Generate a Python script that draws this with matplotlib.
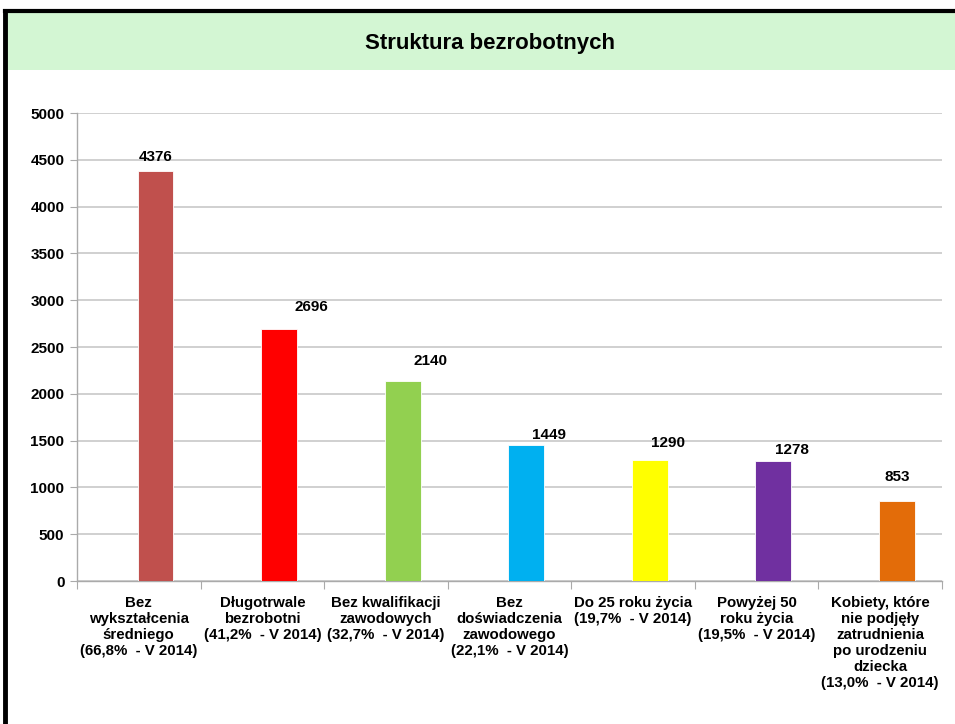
import numpy as np
import matplotlib
matplotlib.use("Agg")
import matplotlib.pyplot as plt
from matplotlib.patches import Rectangle
from matplotlib.lines import Line2D

plt.rcParams['font.family'] = ['Liberation Sans', 'DejaVu Sans']
plt.rcParams['font.weight'] = 'bold'

categories = [
    "Bez\nwykształcenia\nśredniego\n(66,8%  - V 2014)",
    "Długotrwale\nbezrobotni\n(41,2%  - V 2014)",
    "Bez kwalifikacji\nzawodowych\n(32,7%  - V 2014)",
    "Bez\ndoświadczenia\nzawodowego\n(22,1%  - V 2014)",
    "Do 25 roku życia\n(19,7%  - V 2014)",
    "Powyżej 50\nroku życia\n(19,5%  - V 2014)",
    "Kobiety, które\nnie podjęły\nzatrudnienia\npo urodzeniu\ndziecka\n(13,0%  - V 2014)",
]
values = [4376, 2696, 2140, 1449, 1290, 1278, 853]
colors = ["#c0504d", "#ff0000", "#92d050", "#00b0f0", "#ffff00", "#7030a0", "#e36c09"]

# label nudges in pixels (labels were moved by hand in the original)
label_dx = [0, 32, 28, 23, 18, 19, 0]
label_dy = [14, 22, 20, 10, 17, 11, 24]

fig = plt.figure(figsize=(9.55, 7.24), dpi=100)

# title band and frame
fig.patches.append(Rectangle((0.007, 0.903), 0.993, 0.080, transform=fig.transFigure,
                             facecolor="#d3f6d3", edgecolor="none", zorder=0))
fig.lines.append(Line2D([0.005, 1.0], [0.985, 0.985], transform=fig.transFigure,
                        color="black", linewidth=3))
fig.lines.append(Line2D([0.005, 0.005], [0.0, 0.985], transform=fig.transFigure,
                        color="black", linewidth=3.5))
fig.text(0.513, 0.940, "Struktura bezrobotnych", ha="center", va="center",
         fontsize=16, fontweight="bold")

ax = fig.add_axes([0.0806, 0.1975, 0.9058, 0.6464])
x = np.arange(len(values))
offset = 0.135
bars = ax.bar(x + offset, values, width=0.29, color=colors, edgecolor="white",
              linewidth=0.6, zorder=3)

for i, (b, v) in enumerate(zip(bars, values)):
    ax.annotate(str(v), (b.get_x() + b.get_width() / 2, v),
                xytext=(label_dx[i] * 0.72, label_dy[i] * 0.72), textcoords="offset points",
                ha="center", va="center", fontsize=11, fontweight="bold")

ax.set_xlim(-0.5, len(values) - 0.5)
ax.set_ylim(0, 5000)
ax.set_yticks(np.arange(0, 5001, 500))
ax.yaxis.grid(True, color="#c8c8c8", linewidth=1.2, zorder=0)
ax.set_axisbelow(True)
ax.tick_params(axis="y", labelsize=11, length=5, color="#aaaaaa", pad=4)

ax.set_xticks(np.arange(-0.5, len(values), 1.0))
ax.set_xticklabels([])
ax.tick_params(axis="x", length=6, color="#aaaaaa")
ax.set_xticks(x, minor=True)
ax.set_xticklabels(categories, minor=True, fontsize=10.8, fontweight="bold",
                   linespacing=1.17)
ax.tick_params(axis="x", which="minor", length=0, pad=11)

for s in ["top", "right"]:
    ax.spines[s].set_visible(False)
for s in ["left", "bottom"]:
    ax.spines[s].set_color("#aaaaaa")
    ax.spines[s].set_linewidth(1)

fig.savefig("out.png", dpi=100)
